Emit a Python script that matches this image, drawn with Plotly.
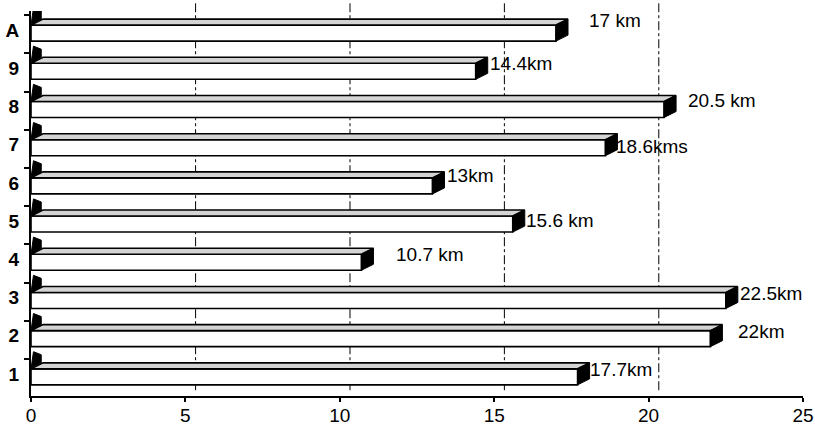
import plotly.graph_objects as go

# ---- data ----
categories = ["1", "2", "3", "4", "5", "6", "7", "8", "9", "A"]
values = [17.7, 22, 22.5, 10.7, 15.6, 13, 18.6, 20.5, 14.4, 17]
value_labels = ["17.7km", "22km", "22.5km", "10.7 km", "15.6 km", "13km",
                "18.6kms", "20.5 km", "14.4km", "17 km"]
x_ticks = [0, 5, 10, 15, 20, 25]

# ---- style / geometry (pixels & data-unit depth of the 3-D look) ----
label_xshift = [10, 26, 12, 33, 11, 13, 9, 22, 12, 31]
label_yshift = [4, 4, 4, 5, 1, 7, -2, 6, 5, 10]
FRONT_LOW, FRONT_HIGH = -0.288, 0.131   # front face extent around category centre
DX, DY = 0.39, 0.157                     # 3-D depth offset (x units, y units)
GRID_SHIFT = 0.33                        # back-wall grid offset (x units)
FONT = "Arial, Liberation Sans, sans-serif"

pos = list(range(len(categories)))

fig = go.Figure()

# left-wall shadow wedges
sx, sy = [], []
for p in pos:
    sx += [0, DX * 0.85, DX * 0.85, 0.08, 0, None]
    sy += [p + FRONT_HIGH, p + FRONT_HIGH + DY, p + 0.5, p + 0.58, p + FRONT_HIGH, None]
fig.add_trace(go.Scatter(x=sx, y=sy, mode="lines", fill="toself", fillcolor="black",
                         line=dict(color="black", width=1), hoverinfo="skip"))

# front faces
fig.add_trace(go.Bar(x=values, y=pos, base=0, orientation="h", width=0.419, offset=FRONT_LOW,
                     marker=dict(color="white", line=dict(color="black", width=1.6)),
                     hoverinfo="skip"))

# top faces
tx, ty = [], []
for p, v in zip(pos, values):
    y0 = p + FRONT_HIGH
    tx += [0, v, v + DX, DX, 0, None]
    ty += [y0, y0, y0 + DY, y0 + DY, y0, None]
fig.add_trace(go.Scatter(x=tx, y=ty, mode="lines", fill="toself", fillcolor="#d4d4d4",
                         line=dict(color="black", width=1.6), hoverinfo="skip"))

# side faces (dark)
rx, ry = [], []
for p, v in zip(pos, values):
    rx += [v, v, v + DX, v + DX, v, None]
    ry += [p + FRONT_LOW, p + FRONT_HIGH, p + FRONT_HIGH + DY, p + FRONT_LOW + DY, p + FRONT_LOW, None]
fig.add_trace(go.Scatter(x=rx, y=ry, mode="lines", fill="toself", fillcolor="black",
                         line=dict(color="black", width=1), hoverinfo="skip"))

# value labels
for p, v, t, xs, ys in zip(pos, values, value_labels, label_xshift, label_yshift):
    fig.add_annotation(x=v, y=p, text=t, showarrow=False, xanchor="left", yanchor="middle",
                       xshift=xs, yshift=ys, font=dict(family=FONT, size=19, color="black"))

# back-wall dash-dot grid lines
for t in x_ticks[1:-1]:
    fig.add_shape(type="line", xref="x", yref="paper", x0=t + GRID_SHIFT, x1=t + GRID_SHIFT,
                  y0=0.015, y1=1.02, layer="below",
                  line=dict(color="black", width=1, dash="dashdot"))

y_range = [-0.58, 9.5]
fig.update_layout(
    width=815, height=425,
    margin=dict(l=31, r=12, t=11, b=29),
    plot_bgcolor="white", paper_bgcolor="white",
    showlegend=False, barmode="overlay",
    xaxis=dict(range=[0, 25], tickvals=x_ticks, ticks="outside", ticklen=4, tickwidth=1.5,
               tickcolor="black", showline=True, linewidth=2, linecolor="black",
               showgrid=False, zeroline=False, automargin=False, ticklabelstandoff=-3,
               tickfont=dict(family=FONT, size=19, color="black")),
    yaxis=dict(range=y_range, tickvals=pos, ticktext=categories, ticks="",
               showline=True, linewidth=2, linecolor="black", showgrid=False, zeroline=False,
               ticklabelstandoff=6, automargin=False,
               tickfont=dict(family=FONT, size=19, color="black", weight="bold")),
    yaxis2=dict(overlaying="y", anchor="x", range=y_range, automargin=False,
                tickvals=[p - 0.61 for p in pos] + [len(pos) - 0.61],
                ticks="outside", ticklen=6, tickwidth=1.5, tickcolor="black",
                showticklabels=False, showline=False, showgrid=False, zeroline=False),
)
fig.add_trace(go.Scatter(x=[None], y=[None], yaxis="y2", showlegend=False, hoverinfo="skip"))

fig.write_html("out.html")
